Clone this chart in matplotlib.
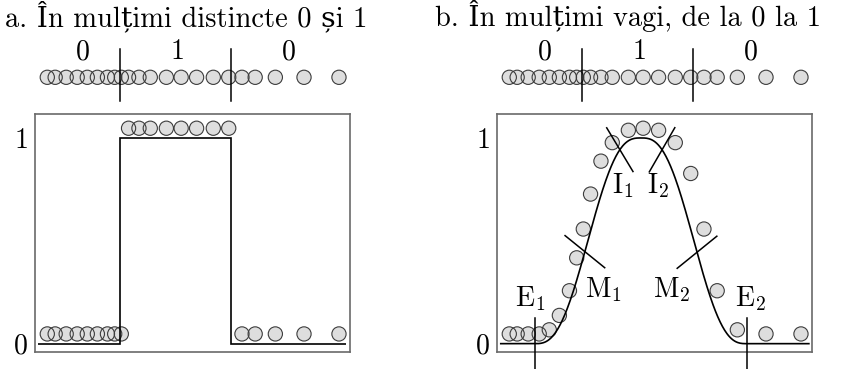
import numpy as np
import matplotlib
matplotlib.use('Agg')
import matplotlib.pyplot as plt
from matplotlib.transforms import ScaledTranslation

plt.rcParams['font.family'] = ['cmr10', 'DejaVu Serif']
plt.rcParams['mathtext.fontset'] = 'cm'
plt.rcParams['axes.unicode_minus'] = False

# poziția elementelor pe universul de discurs (0..100)
x_pts = [3.9, 6.4, 9.9, 13.4, 16.6, 19.8, 23.0, 25.3, 27.4, 29.7, 33.0,
         36.6, 41.7, 46.4, 51.3, 56.6, 61.5, 65.7, 69.9, 76.3, 85.4, 96.5]
# apartenența crisp (a) și fuzzy (b)
mu_crisp = [0, 0, 0, 0, 0, 0, 0, 0, 0, 1, 1, 1, 1, 1, 1, 1, 1, 0, 0, 0, 0, 0]
mu_fuzzy = [0, 0, 0, 0, 0.02, 0.09, 0.21, 0.37, 0.51, 0.68, 0.84, 0.93,
            0.99, 1.0, 0.99, 0.93, 0.78, 0.51, 0.21, 0.02, 0, 0]

# limitele mulțimii
limite = [26.9, 62.3]
etichete_sus = ['0', '1', '0']
x_etichete_sus = [15.2, 45.4, 80.5]

# treapta pentru mulțimea distinctă
trepte_x = [1.0, 26.9, 62.3, 98.8]
trepte_y = [0, 1, 0]

# punctele caracteristice ale funcției de apartenență
E1, VARF, E2 = 12.0, 45.7, 79.3
puncte_nume = ['E$_1$', 'M$_1$', 'I$_1$', 'I$_2$', 'M$_2$', 'E$_2$']
puncte_x = [12.0, 27.9, 39.0, 52.4, 63.5, 79.3]
puncte_unghi = [90, -39, -59, 60, 39, 90]
etich_x = [10.5, 33.7, 39.9, 51.2, 55.5, 80.5]
etich_y = [0.217, 0.261, 0.77, 0.77, 0.261, 0.217]


def apartenenta(x):
    x = np.asarray(x, dtype=float)
    t = np.where(x <= VARF, (x - E1) / (VARF - E1), (E2 - x) / (E2 - VARF))
    t = np.clip(t, 0, 1)
    return 6 * t**5 - 15 * t**4 + 10 * t**3


W, H = 851, 369
fig = plt.figure(figsize=(W / 100, H / 100), dpi=100)

FILL = '#dedede'
EDGE = '#3c3c3c'
FRAME = '#6a6a6a'


def px_box(x0, y0, x1, y1):
    return [x0 / W, 1 - y1 / H, (x1 - x0) / W, (y1 - y0) / H]


def cercuri(ax, xs, ys, transform):
    ax.scatter(xs, ys, s=105, facecolor=FILL, edgecolor='none',
               transform=transform, zorder=2, clip_on=False)
    ax.scatter(xs, ys, s=105, facecolor='none', edgecolor=EDGE, linewidths=0.8,
               transform=transform, zorder=3, clip_on=False)


def panou(x0, xt, titlu, mu):
    # rândul de sus: proiecția elementelor pe axă
    sus = fig.add_axes(px_box(x0, 40, x0 + 315, 110))
    sus.set_xlim(0, 100)
    sus.set_ylim(-32.7, 37.3)
    sus.axis('off')
    cercuri(sus, x_pts, np.zeros(len(x_pts)), sus.transData)
    for xl in limite:
        sus.plot([xl, xl], [-23.4, 28.3], color='black', lw=1.1, zorder=4)
    for xe, te in zip(x_etichete_sus, etichete_sus):
        sus.text(xe, 25.3, te, ha='center', va='center', fontsize=20)

    ax = fig.add_axes(px_box(x0, 114.3, x0 + 315, 352.3))
    ax.set_xlim(0, 100)
    ax.set_ylim(-0.042, 1.115)
    ax.set_xticks([])
    ax.set_yticks([0, 1])
    ax.set_yticklabels(['0', '1'], fontsize=20)
    ax.tick_params(axis='y', length=0, pad=5)
    for s in ax.spines.values():
        s.set_color(FRAME)
        s.set_linewidth(1.2)

    ridicat = ax.transData + ScaledTranslation(0, 7 / 72, fig.dpi_scale_trans)
    cercuri(ax, x_pts, mu, ridicat)

    fig.text(xt / W, 1 - 26 / H, titlu, ha='left', va='baseline', fontsize=20.5)
    return ax


ax_a = panou(35, 5, 'a. În mulțimi distincte 0 și 1', mu_crisp)
ax_a.stairs(trepte_y, trepte_x, baseline=None, color='black', lw=1.2, zorder=4)

ax_b = panou(497, 435, 'b. În mulțimi vagi, de la 0 la 1', mu_fuzzy)
xs = np.linspace(1.2, 99.0, 400)
ax_b.plot(xs, apartenenta(xs), color='black', lw=1.2, zorder=4)

# liniuțele care marchează punctele E, M, I pe curbă
L = 51 / 2
for xp, ung in zip(puncte_x, puncte_unghi):
    cx, cy = ax_b.transData.transform((xp, float(apartenenta(xp))))
    dx = L * np.cos(np.radians(ung))
    dy = L * np.sin(np.radians(ung))
    p = ax_b.transData.inverted().transform([(cx - dx, cy - dy), (cx + dx, cy + dy)])
    ax_b.plot(p[:, 0], p[:, 1], color='black', lw=1.1, zorder=4, clip_on=False)

for n, xe, ye in zip(puncte_nume, etich_x, etich_y):
    ax_b.text(xe, ye, n, ha='center', va='center', fontsize=20)

fig.savefig('out.png', dpi=100)
